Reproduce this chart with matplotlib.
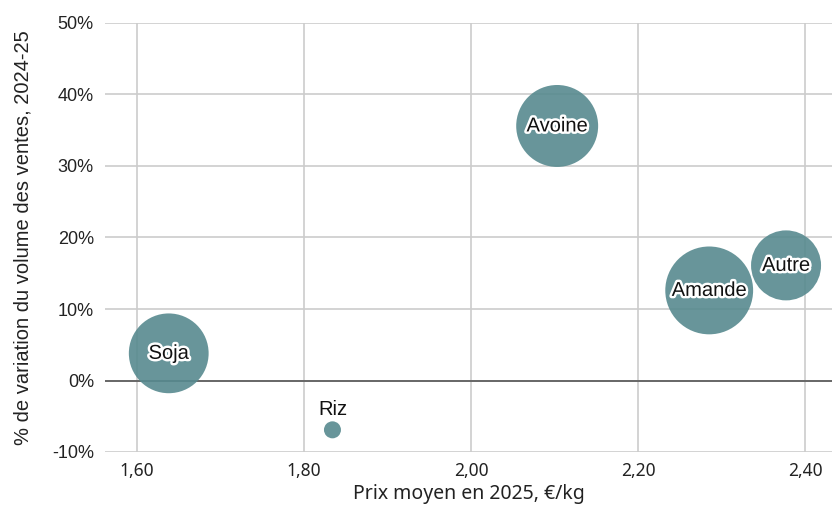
import matplotlib
matplotlib.use("Agg")
import matplotlib.pyplot as plt
import matplotlib.patheffects as pe
from matplotlib.ticker import FuncFormatter

# Data
categories = ["Soja", "Riz", "Avoine", "Amande", "Autre"]
prix = [1.638, 1.834, 2.103, 2.285, 2.377]          # EUR/kg
variation = [0.038, -0.069, 0.356, 0.126, 0.161]    # volume change 2024-25
bubble_size = [3300, 150, 3480, 4000, 2540]         # marker area (relative volume)

plt.rcParams["font.family"] = ["Liberation Sans", "DejaVu Sans"]

fig = plt.figure(figsize=(8.32, 5.08), dpi=100)
ax = fig.add_axes([105 / 832, 56 / 508, 727 / 832, 429 / 508])

ax.set_xlim(1.5617, 2.432)
ax.set_ylim(-0.10, 0.50)
ax.set_xticks([1.6, 1.8, 2.0, 2.2, 2.4])
ax.set_yticks([-0.1, 0.0, 0.1, 0.2, 0.3, 0.4, 0.5])

ax.grid(True, color="#cccccc", linewidth=1.2, zorder=0)
ax.set_axisbelow(True)
ax.axhline(0, color="#555555", linewidth=1.2, zorder=1)

for side in ax.spines.values():
    side.set_visible(False)
ax.tick_params(length=0, colors="#222222")
ax.tick_params(axis="x", pad=7, labelsize=12.5)
ax.tick_params(axis="y", pad=8, labelsize=13)

ax.xaxis.set_major_formatter(FuncFormatter(lambda v, p: f"{v:.2f}".replace(".", ",")))
ax.yaxis.set_major_formatter(FuncFormatter(lambda v, p: f"{v * 100:.0f}%"))
for lbl in ax.get_xticklabels():
    lbl.set_family(["Noto Sans", "DejaVu Sans"])

ax.scatter(prix, variation, s=bubble_size, color="#578a8f", alpha=0.9,
           edgecolors="none", zorder=2)

halo = [pe.withStroke(linewidth=3.5, foreground="white")]
for name, x, y in zip(categories, prix, variation):
    if name == "Riz":
        ax.annotate(name, (x, y), xytext=(0, 8), textcoords="offset points",
                    ha="center", va="bottom", fontsize=14.5, color="#111111", zorder=3)
    else:
        ax.text(x, y, name, ha="center", va="center", fontsize=14.5,
                color="#111111", path_effects=halo, zorder=3)

ax.set_xlabel("Prix moyen en 2025, €/kg", fontsize=14, family=["Noto Sans", "DejaVu Sans"],
              color="#222222", labelpad=3)
ax.set_ylabel("% de variation du volume des ventes, 2024-25", fontsize=14.5,
              color="#222222", labelpad=14)

fig.savefig("out.png", dpi=100, facecolor="white")
